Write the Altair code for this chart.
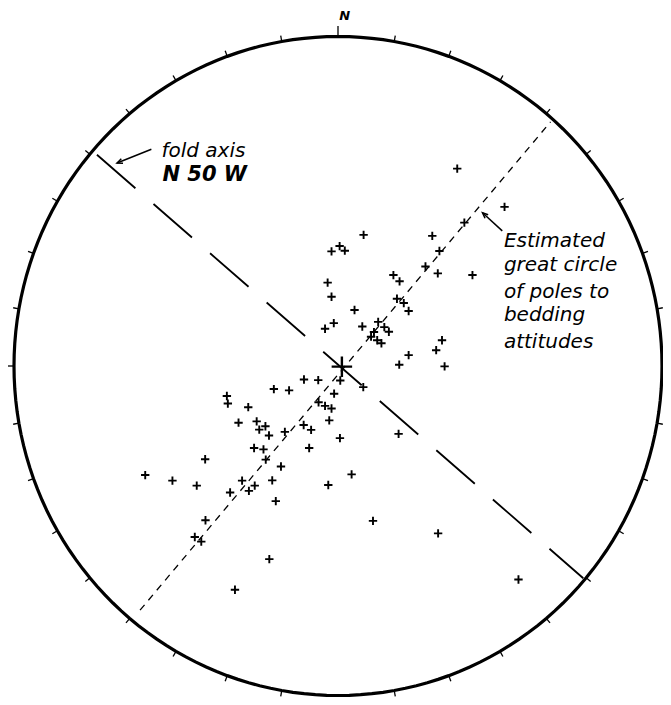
import altair as alt
import pandas as pd

pole_east = [36.8, 51.4, 39.0, 29.1, 7.9, -2.0, 0.5, 2.1, 31.3, 27.0,
             30.8, 41.5, 17.1, 19.0, -3.2, -2.0, 18.2, 20.3, 21.8, 5.1,
             -4.0, -1.3, 7.5, 12.4, 14.3, 15.7, 11.1, 10.2, 12.1, 13.4,
             32.1, 30.3, 21.8, 18.9, 32.9, 0.7, -10.5, -6.1, 7.8, -1.2,
             -19.8, -15.1, -34.3, -34.0, -27.7, -6.0, -4.0, -2.0, -2.7, -30.7,
             -25.1, -22.4, -24.3, -21.3, -16.4, -10.6, -8.3, 0.6, 18.7, -8.9,
             -25.9, -23.0, -22.3, -41.0, -17.6, -59.5, -51.1, -43.6, -29.6, -25.7,
             -27.5, -33.3, -20.3, -3.0, 4.2, -19.2, -40.9, 10.8, -44.2, -42.2,
             30.9, -21.2, 55.7, -31.8]
pole_north = [59.9, 48.3, 43.5, 39.5, 39.8, 34.8, 36.4, 35.0, 34.9, 30.2,
              28.1, 27.6, 27.6, 25.7, 25.3, 21.0, 20.4, 19.1, 16.7, 17.0,
              11.3, 13.0, 12.0, 13.4, 11.8, 10.4, 10.3, 8.9, 7.8, 6.9,
              7.8, 4.8, 3.3, 0.4, -0.1, -4.4, -4.1, -4.3, -6.4, -8.4,
              -7.0, -7.4, -9.1, -11.4, -12.5, -11.0, -12.1, -12.9, -16.5, -17.2,
              -16.8, -18.3, -19.3, -21.1, -20.0, -17.9, -19.4, -21.9, -20.6, -24.9,
              -24.9, -25.3, -28.4, -28.3, -30.5, -33.1, -34.8, -36.3, -34.8, -36.3,
              -37.9, -38.4, -34.7, -36.1, -32.9, -41.0, -46.8, -47.0, -51.9, -53.3,
              -50.8, -58.6, -64.8, -67.9]

center_east = [1.2]
center_north = [-0.2]

# fold axis trace (N 50 W) and estimated great circle (girdle) of poles
fold_east = [-74.4]
fold_north = [64.1]
fold_east2 = [75.7]
fold_north2 = [-64.4]
girdle_east = [-61.1]
girdle_north = [-74.1]
girdle_east2 = [65.6]
girdle_north2 = [74.1]

# annotations
label_text = ["fold axis", "Estimated", "great circle", "of poles to", "bedding", "attitudes"]
label_east = [-54.5, 51.2, 51.2, 51.2, 51.2, 51.2]
label_north = [63.5, 36.0, 28.8, 20.7, 13.6, 5.6]
bold_text = ["N 50 W"]
bold_east = [-54.2]
bold_north = [56.0]
north_text = ["N"]
north_east = [2.1]
north_north = [106.3]

arrow_east = [-57.6, 50.7]
arrow_north = [65.8, 41.0]
arrow_tip_east = [-68.2, 44.6]
arrow_tip_north = [61.6, 46.5]

# ---- scales ----
xs = alt.Scale(domain=[-101.852, 100.309], nice=False, zero=False)
ys = alt.Scale(domain=[-100.455, 108.650], nice=False, zero=False)


def X(f):
    return alt.X(f, type="quantitative", scale=xs, axis=None)


def Y(f):
    return alt.Y(f, type="quantitative", scale=ys, axis=None)


# primitive circle
circle = alt.Chart(alt.sequence(0, 362, 2, as_="deg")).transform_calculate(
    e="100*cos(datum.deg*PI/180)", n="100*sin(datum.deg*PI/180)"
).mark_line(color="black", strokeWidth=3.2).encode(
    x=X("e"), y=Y("n"), order=alt.Order("deg:Q")
)

ticks = alt.Chart(alt.sequence(0, 360, 10, as_="az")).transform_calculate(
    L="datum.az % 90 == 0 ? 103.2 : 101.8",
    e="100*sin(datum.az*PI/180)", n="100*cos(datum.az*PI/180)",
    e2="datum.L*sin(datum.az*PI/180)", n2="datum.L*cos(datum.az*PI/180)",
).mark_rule(color="black", strokeWidth=1.3).encode(
    x=X("e"), y=Y("n"), x2=alt.X2("e2"), y2=alt.Y2("n2")
)

fold_df = pd.DataFrame({"e": fold_east, "n": fold_north, "e2": fold_east2, "n2": fold_north2})
fold = alt.Chart(fold_df).mark_rule(color="black", strokeWidth=1.8, strokeDash=[51, 24]).encode(
    x=X("e"), y=Y("n"), x2=alt.X2("e2"), y2=alt.Y2("n2")
)

girdle_df = pd.DataFrame({"e": girdle_east, "n": girdle_north, "e2": girdle_east2, "n2": girdle_north2})
girdle = alt.Chart(girdle_df).mark_rule(color="black", strokeWidth=1.3, strokeDash=[7, 6]).encode(
    x=X("e"), y=Y("n"), x2=alt.X2("e2"), y2=alt.Y2("n2")
)

plus = "M-1,0L1,0M0,-1L0,1"
poles_df = pd.DataFrame({"e": pole_east, "n": pole_north})
poles = alt.Chart(poles_df).mark_point(
    shape=plus, size=70, filled=False, stroke="black", strokeWidth=1.9, opacity=1
).encode(x=X("e"), y=Y("n"))

center_df = pd.DataFrame({"e": center_east, "n": center_north})
center = alt.Chart(center_df).mark_point(
    shape=plus, size=420, filled=False, stroke="black", strokeWidth=2.4, opacity=1
).encode(x=X("e"), y=Y("n"))

arrow_df = pd.DataFrame({"e": arrow_east, "n": arrow_north, "e2": arrow_tip_east, "n2": arrow_tip_north})
shafts = alt.Chart(arrow_df).mark_rule(color="black", strokeWidth=1.5).encode(
    x=X("e"), y=Y("n"), x2=alt.X2("e2"), y2=alt.Y2("n2")
)
heads = alt.Chart(arrow_df).transform_calculate(
    ang="(atan2(datum.e2 - datum.e, datum.n2 - datum.n)*180/PI + 360) % 360"
).mark_point(
    shape="M-0.55,1.3L0,0L0.55,1.3", size=72, filled=False, stroke="black", strokeWidth=1.5, opacity=1
).encode(x=X("e2"), y=Y("n2"), angle=alt.Angle("ang:Q", scale=None))

labels_df = pd.DataFrame({"t": label_text, "e": label_east, "n": label_north})
labels = alt.Chart(labels_df).mark_text(
    align="left", baseline="alphabetic", font="DejaVu Sans", fontSize=20, fontStyle="italic", color="black"
).encode(x=X("e"), y=Y("n"), text="t:N")

bold_df = pd.DataFrame({"t": bold_text, "e": bold_east, "n": bold_north})
bold = alt.Chart(bold_df).mark_text(
    align="left", baseline="alphabetic", font="DejaVu Sans", fontSize=21, fontStyle="italic",
    fontWeight="bold", color="black"
).encode(x=X("e"), y=Y("n"), text="t:N")

north_df = pd.DataFrame({"t": north_text, "e": north_east, "n": north_north})
north = alt.Chart(north_df).mark_text(
    align="center", baseline="middle", font="DejaVu Sans", fontSize=13, fontStyle="italic",
    fontWeight="bold", color="black"
).encode(x=X("e"), y=Y("n"), text="t:N")

chart = alt.layer(
    circle, ticks, girdle, fold, poles, center, shafts, heads, labels, bold, north
).properties(
    width=655, height=689, padding=0, autosize=alt.AutoSizeParams(type="none")
).configure_view(stroke=None)

chart.save("out.html", embed_options={"renderer": "svg", "actions": False})
